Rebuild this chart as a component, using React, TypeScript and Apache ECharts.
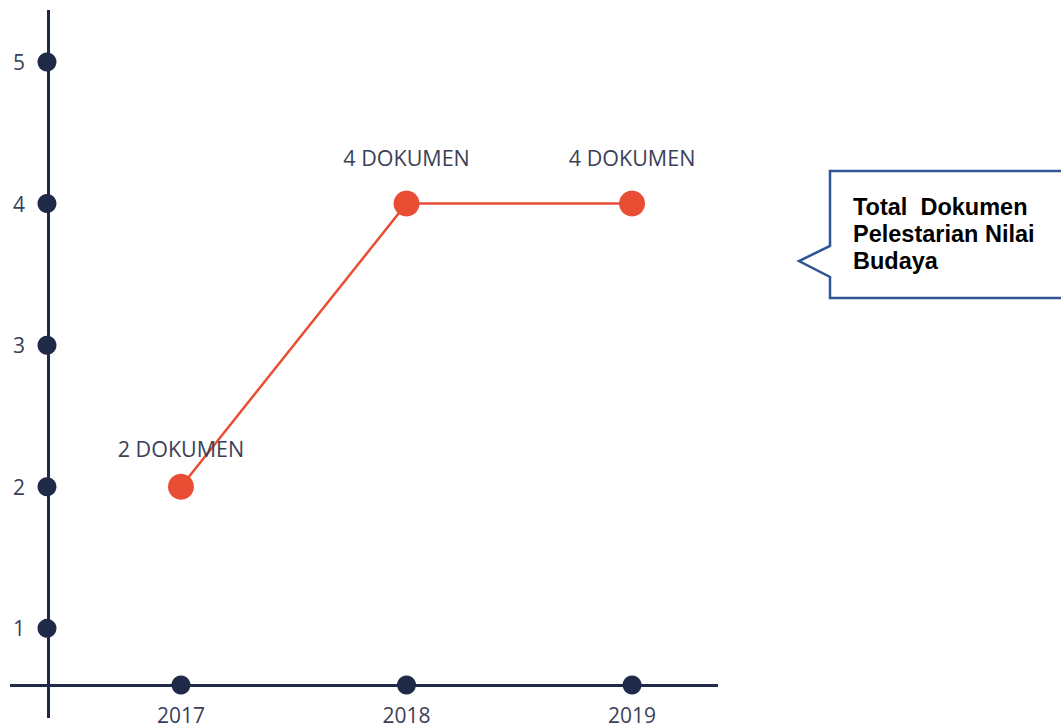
import React, { useEffect, useRef } from "react";
import * as echarts from "echarts";

const years = [2017, 2018, 2019];
const totals = [2, 4, 4];
const yTicks = [1, 2, 3, 4, 5];
const labelSuffix = " DOKUMEN";
const calloutLines = ["Total  Dokumen", "Pelestarian Nilai", "Budaya"];

// layout (axis crossing positions in data space)
const X_MIN = 2016.242;
const X_MAX = 2019.381;
const Y_MIN = 0.367;
const Y_MAX = 5.367;
const Y_AXIS_AT = 2016.406;
const X_AXIS_AT = 0.6;

const NAVY = "#1f2a48";
const RED = "#e94e35";
const TEXT = "#3b3f58";

export default function App() {
  const ref = useRef<HTMLDivElement>(null);
  useEffect(() => {
    if (!ref.current) return;
    const chart = echarts.init(ref.current, undefined, { renderer: "svg" });
    const labelDist = [14, 22, 22];
    chart.setOption({
      animation: false,
      grid: { left: 10, right: 343, top: 10, bottom: 8 },
      xAxis: {
        type: "value",
        min: X_MIN,
        max: X_MAX,
        offset: -14,
        axisLine: { show: false },
        axisTick: { show: false },
        splitLine: { show: false },
        axisLabel: {
          customValues: years,
          margin: 0,
          color: TEXT,
          fontFamily: "Open Sans",
          fontSize: 21,
          formatter: (v: number) => String(Math.round(v)),
        },
      },
      yAxis: {
        type: "value",
        min: Y_MIN,
        max: Y_MAX,
        axisLine: { show: false },
        axisTick: { show: false },
        splitLine: { show: false },
        axisLabel: {
          customValues: yTicks,
          inside: true,
          margin: 3,
          color: TEXT,
          fontFamily: "Open Sans",
          fontSize: 21,
          formatter: (v: number) => String(Math.round(v)),
        },
      },
      series: [
        {
          type: "line",
          silent: true,
          symbol: "none",
          lineStyle: { width: 0 },
          data: [],
          markLine: {
            silent: true,
            symbol: "none",
            label: { show: false },
            lineStyle: { color: NAVY, width: 3, type: "solid" },
            data: [{ xAxis: Y_AXIS_AT }, { yAxis: X_AXIS_AT }],
          },
          z: 1,
        },
        {
          type: "scatter",
          symbolSize: 19,
          itemStyle: { color: NAVY, opacity: 1 },
          data: yTicks.map((v) => [Y_AXIS_AT, v]),
          z: 3,
        },
        {
          type: "scatter",
          symbolSize: 19,
          itemStyle: { color: NAVY, opacity: 1 },
          data: years.map((y) => [y, X_AXIS_AT]),
          z: 3,
        },
        {
          type: "line",
          symbol: "circle",
          symbolSize: 26,
          showAllSymbol: true,
          lineStyle: { color: RED, width: 2.5 },
          itemStyle: { color: RED, borderWidth: 0 },
          data: years.map((y, i) => ({
            value: [y, totals[i]],
            label: { distance: labelDist[i] },
          })),
          label: {
            show: true,
            position: "top",
            color: TEXT,
            fontFamily: "Open Sans",
            fontSize: 21.5,
            formatter: (p: any) => `${p.value[1]}${labelSuffix}`,
          },
          z: 4,
        },
      ],
      graphic: [
        {
          type: "polygon",
          shape: {
            points: [
              [830, 171],
              [1064, 171],
              [1064, 298],
              [830, 298],
              [830, 277],
              [799, 261],
              [830, 246],
            ],
          },
          style: { fill: "#ffffff", stroke: "#2f5597", lineWidth: 2.5 },
          z: 10,
        },
        {
          type: "text",
          x: 853,
          y: 193.5,
          style: {
            text: calloutLines.join("\n"),
            fill: "#000000",
            fontFamily: "Liberation Sans",
            fontWeight: "bold",
            fontSize: 23.5,
            lineHeight: 27,
            verticalAlign: "top",
          },
          z: 11,
        },
      ],
    });
    return () => chart.dispose();
  }, []);
  return (
    <div
      ref={ref}
      style={{ position: "fixed", left: 0, top: 0, width: 1061, height: 726, background: "#fff" }}
    />
  );
}
